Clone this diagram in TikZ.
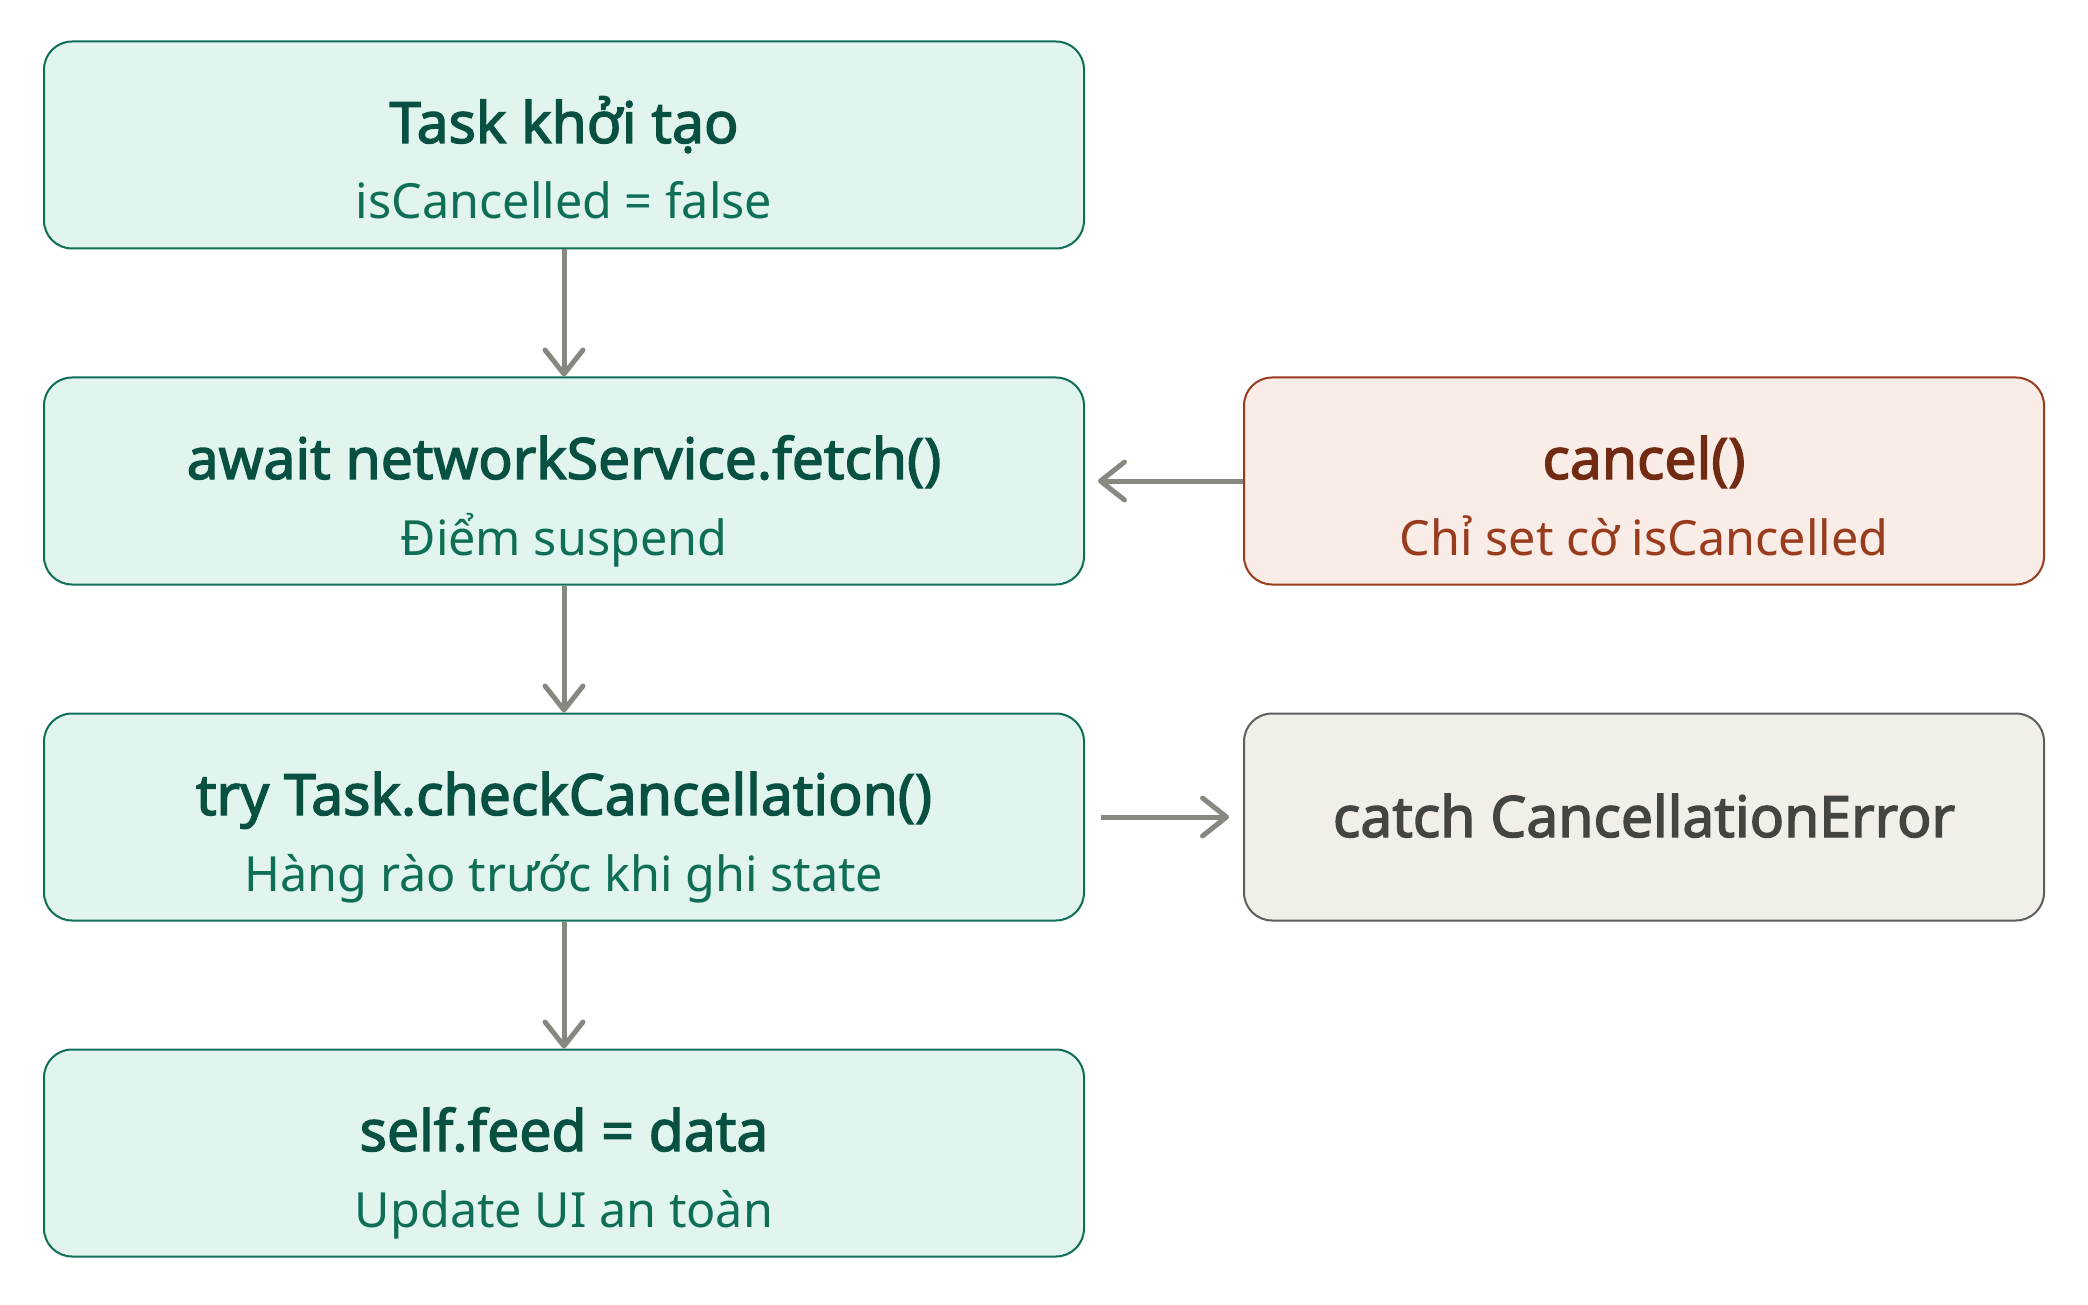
\documentclass[tikz,border=0pt]{standalone}
\usepackage{fontspec}
\setmainfont{Noto Sans}[AutoFakeBold=2.4]
\usetikzlibrary{arrows.meta}
\definecolor{gfill}{HTML}{E1F5EE}
\definecolor{gdraw}{HTML}{0F6E56}
\definecolor{gtitle}{HTML}{085041}
\definecolor{gsub}{HTML}{0F6E56}
\definecolor{rfill}{HTML}{FAECE7}
\definecolor{rdraw}{HTML}{993C1D}
\definecolor{rtitle}{HTML}{712B13}
\definecolor{rsub}{HTML}{993C1D}
\definecolor{nfill}{HTML}{F1EFE8}
\definecolor{ndraw}{HTML}{5F5E5A}
\definecolor{ntext}{HTML}{444441}
\definecolor{arr}{HTML}{888780}
\tikzset{
  box/.style={rectangle, rounded corners=28pt, line width=2pt, inner sep=0pt},
  gbox/.style={box, fill=gfill, draw=gdraw, minimum width=1040pt, minimum height=207pt},
  rbox/.style={box, fill=rfill, draw=rdraw, minimum width=800pt, minimum height=207pt},
  nbox/.style={box, fill=nfill, draw=ndraw, minimum width=800pt, minimum height=207pt},
  ttl/.style={inner sep=0pt, anchor=base, font=\fontsize{57}{68}\selectfont\bfseries},
  sub/.style={inner sep=0pt, anchor=base, font=\fontsize{48.5}{60}\selectfont},
  flow/.style={draw=arr, line width=5pt, -{Straight Barb[length=24pt,width=38pt,round]}},
}
\begin{document}
\begin{tikzpicture}[x=1pt,y=-1pt]
\useasboundingbox (0,0) rectangle (2088,1305);
% left column
\node[gbox] (b1) at (564,145) {};
\node[gbox] (b2) at (564,481) {};
\node[gbox] (b3) at (564,817) {};
\node[gbox] (b4) at (564,1153) {};
% right column
\node[rbox] (c1) at (1644,481) {};
\node[nbox] (c2) at (1644,817) {};
% texts
\node[ttl, text=gtitle] (b1t) at ([yshift=2pt]b1.center) {Task khởi tạo};
\node[sub, text=gsub] (b1s) at ([yshift=-74pt]b1.center) {isCancelled = false};
\node[ttl, text=gtitle] (b2t) at ([yshift=2pt]b2.center) {await networkService.fetch()};
\node[sub, text=gsub] (b2s) at ([yshift=-74pt]b2.center) {Điểm suspend};
\node[ttl, text=gtitle] (b3t) at ([yshift=2pt]b3.center) {try Task.checkCancellation()};
\node[sub, text=gsub] (b3s) at ([yshift=-74pt]b3.center) {Hàng rào trước khi ghi state};
\node[ttl, text=gtitle] (b4t) at ([yshift=2pt]b4.center) {self.feed = data};
\node[sub, text=gsub] (b4s) at ([yshift=-74pt]b4.center) {Update UI an toàn};
\node[ttl, text=rtitle] (c1t) at ([yshift=2pt]c1.center) {cancel()};
\node[sub, text=rsub] (c1s) at ([yshift=-74pt]c1.center) {Chỉ set cờ isCancelled};
\node[ttl, text=ntext] (c2t) at ([yshift=-20pt]c2.center) {catch CancellationError};
% connectors
\draw[flow] (b1.south) -- (b2.north);
\draw[flow] (b2.south) -- (b3.north);
\draw[flow] (b3.south) -- (b4.north);
\draw[flow, shorten >=13pt] (c1.west) -- (b2.east);
\draw[flow, shorten <=16pt, shorten >=14pt] (b3.east) -- (c2.west);
\end{tikzpicture}
\end{document}
